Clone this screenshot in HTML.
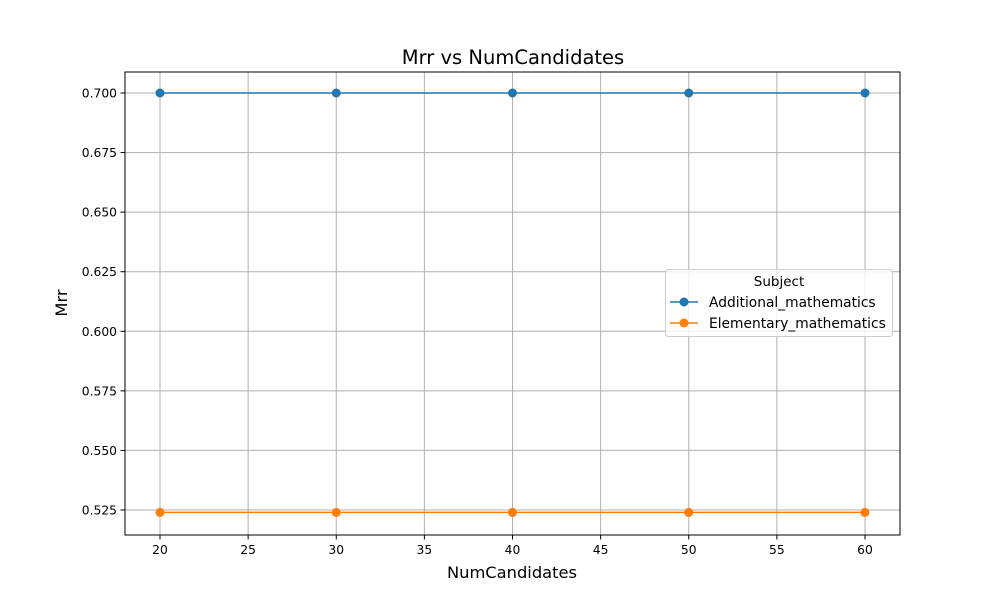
<!DOCTYPE html>
<html><head><meta charset="utf-8"><style>
body{margin:0;background:#fff;}
svg text{font-family:"DejaVu Sans","Liberation Sans",sans-serif;}
</style></head><body>
<svg id="chart" width="1000" height="600" xmlns="http://www.w3.org/2000/svg">
<rect width="1000" height="600" fill="#fff"/>
<g id="grid"></g>
<g id="series"></g>
<rect x="125" y="72" width="775" height="463" fill="none" stroke="#000" stroke-width="1"/>
<g id="ticks"></g>
<text x="513" y="64" font-size="19.5" text-anchor="middle">Mrr vs NumCandidates</text>
<text x="512" y="578" font-size="16.3" text-anchor="middle">NumCandidates</text>
<text x="67" y="303" font-size="16.3" text-anchor="middle" transform="rotate(-90 67 303)">Mrr</text>
<g>
<rect x="665.5" y="269.5" width="227" height="67" rx="3" fill="#fff" fill-opacity="0.8" stroke="#ccc"/>
<text x="779" y="286" font-size="13.5" text-anchor="middle">Subject</text>
<g>
<line x1="670" y1="302" x2="698" y2="302" stroke="#1f77b4" stroke-width="1.5"/><circle cx="684" cy="302" r="4.5" fill="#1f77b4"/>
<text x="709" y="307" font-size="13.8">Additional_mathematics</text></g>
<g>
<line x1="670" y1="323" x2="698" y2="323" stroke="#ff7f0e" stroke-width="1.5"/><circle cx="684" cy="323" r="4.5" fill="#ff7f0e"/>
<text x="709" y="328" font-size="13.8">Elementary_mathematics</text></g>
</g>
</svg>
<script>
const categories=[20,30,40,50,60];
const additionalValues=[0.700,0.700,0.700,0.700,0.700];
const elementaryValues=[0.524,0.524,0.524,0.524,0.524];
const xTicks=[20,25,30,35,40,45,50,55,60];
const yTicks=[0.525,0.550,0.575,0.600,0.625,0.650,0.675,0.700];
const NS="http://www.w3.org/2000/svg";
function xs(v){return 160+(v-20)*(705/40);}
function ys(v){return 510-(v-0.525)*(417/0.175);}
function mk(tag,attrs,parent){const e=document.createElementNS(NS,tag);for(const k in attrs)e.setAttribute(k,attrs[k]);parent.appendChild(e);return e;}
const grid=document.getElementById('grid'),ticks=document.getElementById('ticks'),ser=document.getElementById('series');
xTicks.forEach(t=>{const x=xs(t);
const g=mk('line',{x1:x,x2:x,y1:72,y2:535,stroke:'#b0b0b0','stroke-width':1},grid);


mk('line',{x1:x,x2:x,y1:535,y2:539.5,stroke:'#000'},ticks);
const tx=mk('text',{x:x,y:554,'font-size':12.3,'text-anchor':'middle'},ticks);tx.textContent=t;

});
yTicks.forEach(t=>{const y=ys(t);
const g=mk('line',{x1:125,x2:900,y1:y,y2:y,stroke:'#b0b0b0','stroke-width':1},grid);


mk('line',{x1:120.5,x2:125,y1:y,y2:y,stroke:'#000'},ticks);
const tx=mk('text',{x:117,y:y+4.5,'font-size':12.3,'text-anchor':'end'},ticks);tx.textContent=t.toFixed(3);

});
function drawSeries(vals,color,name){
const pts=categories.map((c,i)=>xs(c)+','+ys(vals[i])).join(' ');
const pl=mk('polyline',{points:pts,fill:'none',stroke:color,'stroke-width':1.5},ser);


categories.forEach((c,i)=>{const p=mk('circle',{cx:xs(c),cy:ys(vals[i]),r:4.5,fill:color},ser);

});}
drawSeries(additionalValues,'#1f77b4','additional-mathematics');
drawSeries(elementaryValues,'#ff7f0e','elementary-mathematics');
</script>
</body></html>
